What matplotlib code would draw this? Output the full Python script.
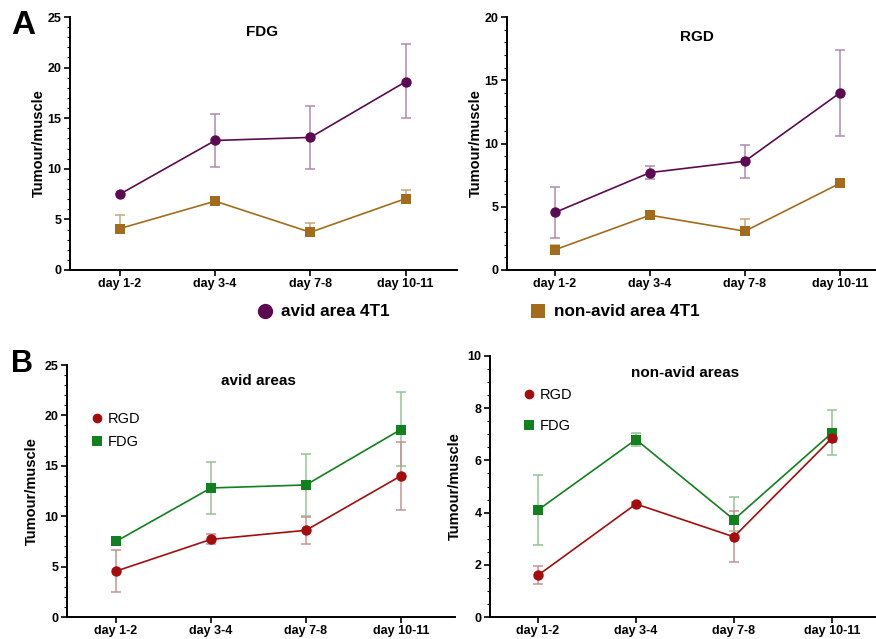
import numpy as np
import matplotlib.pyplot as plt
from matplotlib.lines import Line2D
from matplotlib.ticker import MultipleLocator

plt.rcParams['font.family'] = ['Liberation Sans', 'DejaVu Sans']

days = ['day 1-2', 'day 3-4', 'day 7-8', 'day 10-11']

# FDG, avid / non-avid areas (mean, lower, upper)
fdg_avid = [7.5, 12.8, 13.1, 18.6]
fdg_avid_lo = [7.5, 10.2, 10.0, 15.0]
fdg_avid_hi = [7.5, 15.4, 16.2, 22.3]
fdg_non = [4.1, 6.8, 3.73, 7.05]
fdg_non_lo = [2.75, 6.55, 3.3, 6.2]
fdg_non_hi = [5.45, 7.05, 4.6, 7.95]

# RGD, avid / non-avid areas
rgd_avid = [4.55, 7.7, 8.6, 14.0]
rgd_avid_lo = [2.5, 7.2, 7.25, 10.6]
rgd_avid_hi = [6.6, 8.25, 9.9, 17.4]
rgd_non = [1.6, 4.33, 3.07, 6.85]
rgd_non_lo = [1.25, 4.25, 2.1, 6.7]
rgd_non_hi = [1.95, 4.4, 4.05, 7.0]

purple = '#5c0a52'
purple_err = '#b08aac'
brown = '#a36c1c'
brown_err = '#c9a577'
red = '#a30d0d'
red_err = '#c49494'
green = '#12801e'
green_err = '#93c493'

W, H = 876, 639
fig = plt.figure(figsize=(W / 100, H / 100), dpi=100)


def px_axes(x0, x1, ytop, ybot):
    return fig.add_axes([x0 / W, 1 - ybot / H, (x1 - x0) / W, (ybot - ytop) / H])


def style(ax, xlim, ymax, major, minor, lpad=4):
    for s in ['top', 'right']:
        ax.spines[s].set_visible(False)
    for s in ['left', 'bottom']:
        ax.spines[s].set_linewidth(1.4)
    ax.set_xlim(*xlim)
    ax.set_ylim(0, ymax)
    ax.set_xticks(range(len(days)))
    ax.set_xticklabels(days, fontsize=9, fontweight='bold')
    ax.yaxis.set_major_locator(MultipleLocator(major))
    ax.yaxis.set_minor_locator(MultipleLocator(minor))
    ax.tick_params(axis='both', which='major', length=4, width=1.2, pad=2)
    ax.tick_params(axis='y', which='minor', length=2, width=0.8)
    for lab in ax.get_yticklabels():
        lab.set_fontsize(9)
        lab.set_fontweight('bold')
    ax.set_ylabel('Tumour/muscle', fontsize=10.5, fontweight='bold', labelpad=lpad)


def series(ax, y, lo, hi, col, ecol, marker, upper_only=False):
    x = np.arange(len(y))
    y = np.array(y)
    up = np.array(hi) - y
    dn = np.zeros_like(y) if upper_only else y - np.array(lo)
    ax.errorbar(x, y, yerr=[dn, up], fmt='none', ecolor=ecol, elinewidth=1.1,
                capsize=3.6, capthick=1.1, zorder=2)
    ax.plot(x, y, color=col, lw=1.2, marker=marker, markersize=7.5,
            markeredgewidth=0, zorder=3)


# ---- panel A ----
ax1 = px_axes(70, 457, 17, 270)
series(ax1, fdg_non, fdg_non_lo, fdg_non_hi, brown, brown_err, 's', upper_only=True)
series(ax1, fdg_avid, fdg_avid_lo, fdg_avid_hi, purple, purple_err, 'o')
style(ax1, (-0.525, 3.54), 25, 5, 1, lpad=1)

ax2 = px_axes(507, 876, 17, 270)
series(ax2, rgd_non, rgd_non_lo, rgd_non_hi, brown, brown_err, 's', upper_only=True)
series(ax2, rgd_avid, rgd_avid_lo, rgd_avid_hi, purple, purple_err, 'o')
style(ax2, (-0.505, 3.38), 20, 5, 1, lpad=1)

# ---- panel B ----
ax3 = px_axes(67, 455, 365, 617)
series(ax3, fdg_avid, fdg_avid_lo, fdg_avid_hi, green, green_err, 's')
series(ax3, rgd_avid, rgd_avid_lo, rgd_avid_hi, red, red_err, 'o')
style(ax3, (-0.516, 3.57), 25, 5, 1)

ax4 = px_axes(490, 876, 356, 617)
series(ax4, fdg_non, fdg_non_lo, fdg_non_hi, green, green_err, 's')
series(ax4, rgd_non, rgd_non_lo, rgd_non_hi, red, red_err, 'o')
style(ax4, (-0.49, 3.45), 10, 2, 0.5)

# titles
fig.text(262 / W, 1 - 32 / H, 'FDG', ha='center', va='center', fontsize=11, fontweight='bold')
fig.text(697 / W, 1 - 37 / H, 'RGD', ha='center', va='center', fontsize=11, fontweight='bold')
fig.text(258 / W, 1 - 381 / H, 'avid areas', ha='center', va='center', fontsize=11, fontweight='bold')
fig.text(685 / W, 1 - 373 / H, 'non-avid areas', ha='center', va='center', fontsize=11, fontweight='bold')

# panel letters
fig.text(23 / W, 1 - 25 / H, 'A', ha='center', va='center', fontsize=24, fontweight='bold')
fig.text(22 / W, 1 - 364 / H, 'B', ha='center', va='center', fontsize=22, fontweight='bold')

# legend panel A
h_avid = Line2D([], [], ls='none', marker='o', color=purple, markersize=11, markeredgewidth=0)
h_non = Line2D([], [], ls='none', marker='s', color=brown, markersize=10, markeredgewidth=0)
for h, lab, xa in [(h_avid, 'avid area 4T1', 256.5), (h_non, 'non-avid area 4T1', 529.5)]:
    fig.legend(handles=[h], labels=[lab], loc='center left', bbox_to_anchor=(xa / W, 1 - 312 / H),
               frameon=False, handlelength=1, handletextpad=0.45, borderpad=0, borderaxespad=0,
               prop={'size': 12.3, 'weight': 'bold'})

# legends panel B
h_rgd = Line2D([], [], ls='none', marker='o', color=red, markersize=7, markeredgewidth=0)
h_fdg = Line2D([], [], ls='none', marker='s', color=green, markersize=7, markeredgewidth=0)
for xa, yc, ls in [(89.7, 430.5, 0.6), (521.7, 410.5, 1.15)]:
    fig.legend(handles=[h_rgd, h_fdg], labels=['RGD', 'FDG'], loc='center left',
               bbox_to_anchor=(xa / W, 1 - yc / H), frameon=False, handlelength=1,
               handletextpad=0.25, borderpad=0, borderaxespad=0, labelspacing=ls,
               prop={'size': 10.5})

fig.savefig('out.png', dpi=100)
